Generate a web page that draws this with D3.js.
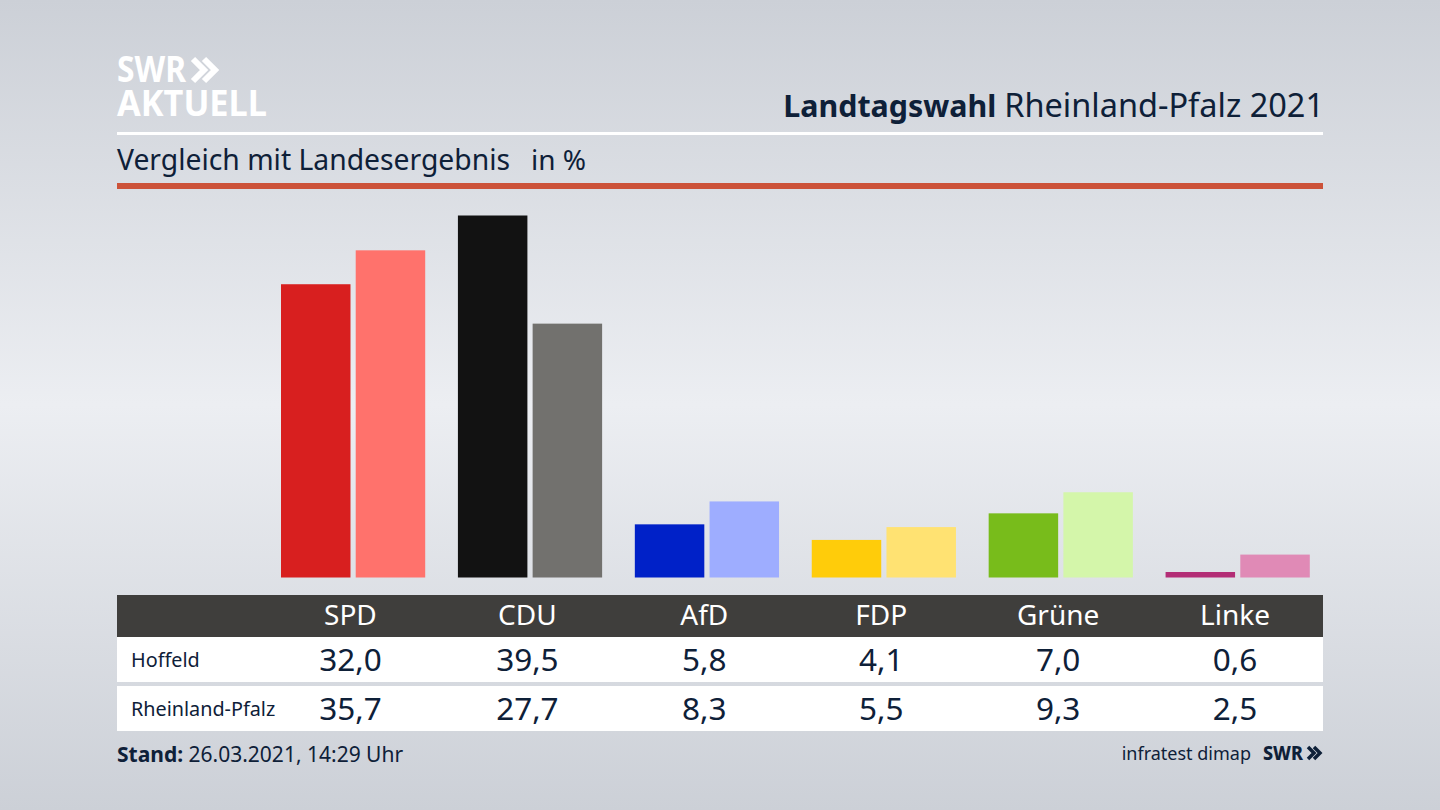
<!DOCTYPE html>
<html>
<head>
<meta charset="utf-8">
<title>Landtagswahl Rheinland-Pfalz 2021</title>
<script src="https://cdn.jsdelivr.net/npm/d3@7"></script>
<style>
  html, body { margin: 0; padding: 0; background: #d5d8de; }
  svg { display: block; }
  text { font-family: "Noto Sans", sans-serif; fill: #0e2038; }
</style>
</head>
<body>
<div id="chart"></div>
<script>
var parties = ['SPD', 'CDU', 'AfD', 'FDP', 'Grüne', 'Linke'];
var rowNames = ['Hoffeld', 'Rheinland-Pfalz'];
var hoffeld = [32.0, 39.5, 5.8, 4.1, 7.0, 0.6];
var landeswert = [35.7, 27.7, 8.3, 5.5, 9.3, 2.5];
var hoffeldColors = ['#d81f1f', '#121212', '#0021c8', '#ffcc0a', '#78bc1b', '#b32d76'];
var landesColors = ['#ff726c', '#72716e', '#9eadff', '#ffe272', '#d4f6aa', '#e08ab6'];

var width = 1440, height = 810;
var fmt = function(v) { return v.toFixed(1).replace('.', ','); };

var svg = d3.select('#chart').append('svg')
  .attr('width', width)
  .attr('height', height);

// Background
var defs = svg.append('defs');
var bg = defs.append('linearGradient')
  .attr('id', 'bg').attr('x1', 0).attr('y1', 0).attr('x2', 0).attr('y2', 1);
bg.append('stop').attr('offset', '0%').attr('stop-color', '#ccd0d7');
bg.append('stop').attr('offset', '50%').attr('stop-color', '#eceef2');
bg.append('stop').attr('offset', '100%').attr('stop-color', '#ccd0d7');
svg.append('rect').attr('width', width).attr('height', height).attr('fill', 'url(#bg)');

// Scales
var x = d3.scaleBand().domain(parties).range([262, 1323.5]);
var series = d3.scaleBand().domain([0, 1]).range([0, 144.2]).paddingInner(0.07);
var y = d3.scaleLinear().domain([0, 39.5]).range([577.5, 215.5]);

// Logo
function chevrons(g, px, py, h, sw, color) {
  [0, h * 0.5].forEach(function(dx) {
    g.append('path')
      .attr('d', d3.line()([[px + dx, py], [px + dx + h * 0.5, py + h / 2], [px + dx, py + h]]))
      .attr('fill', 'none')
      .attr('stroke', color)
      .attr('stroke-width', sw);
  });
}
var logo = svg.append('g');
logo.append('text').attr('x', 117).attr('y', 82).text('SWR')
  .attr('textLength', 69).attr('lengthAdjust', 'spacingAndGlyphs')
  .style('font-size', '35px').style('font-weight', 700).style('fill', '#fff');
chevrons(logo, 193, 59, 22, 6, '#fff');
logo.append('text').attr('x', 117).attr('y', 116).text('AKTUELL')
  .attr('textLength', 150).attr('lengthAdjust', 'spacingAndGlyphs')
  .style('font-size', '35px').style('font-weight', 700).style('fill', '#fff');

// Header, the bold and the regular part have different widths in the reference
var title = svg.append('text').attr('x', 1324).attr('y', 117)
  .attr('text-anchor', 'end');
title.append('tspan').text('Landtagswahl ').style('font-weight', 700).style('font-size', '30.4px');
title.append('tspan').text('Rheinland-Pfalz 2021').style('font-size', '32.5px');

svg.append('rect').attr('x', 117).attr('y', 132).attr('width', 1206).attr('height', 3).attr('fill', '#fff');
svg.append('text').attr('x', 117).attr('y', 170).text('Vergleich mit Landesergebnis')
  .style('font-size', '28.3px');
svg.append('text').attr('x', 531).attr('y', 170).text('in %')
  .style('font-size', '28px');
svg.append('rect').attr('x', 117).attr('y', 183).attr('width', 1206).attr('height', 6).attr('fill', '#cc5239');

// Bars
var groups = svg.selectAll('.party').data(parties).enter().append('g')
  .attr('class', 'party')
  .attr('transform', function(d) { return 'translate(' + (x(d) + 19) + ',0)'; });

groups.append('rect')
  .attr('x', series(0))
  .attr('y', function(d, i) { return y(hoffeld[i]); })
  .attr('width', series.bandwidth())
  .attr('height', function(d, i) { return y(0) - y(hoffeld[i]); })
  .attr('fill', function(d, i) { return hoffeldColors[i]; });

groups.append('rect')
  .attr('x', series(1))
  .attr('y', function(d, i) { return y(landeswert[i]); })
  .attr('width', series.bandwidth())
  .attr('height', function(d, i) { return y(0) - y(landeswert[i]); })
  .attr('fill', function(d, i) { return landesColors[i]; });

// Table
svg.append('rect').attr('x', 117).attr('y', 595).attr('width', 1206).attr('height', 42).attr('fill', '#3f3e3c');
svg.append('rect').attr('x', 117).attr('y', 637).attr('width', 1206).attr('height', 45).attr('fill', '#fff');
svg.append('rect').attr('x', 117).attr('y', 686).attr('width', 1206).attr('height', 45).attr('fill', '#fff');

svg.selectAll('.head').data(parties).enter().append('text')
  .attr('class', 'head')
  .attr('x', function(d) { return x(d) + x.bandwidth() / 2; })
  .attr('y', 625)
  .attr('text-anchor', 'middle')
  .text(function(d) { return d; })
  .style('font-size', '28px')
  .style('fill', '#fff');

[hoffeld, landeswert].forEach(function(values, r) {
  var rowY = r == 0 ? 671 : 720;
  svg.append('text').attr('x', 131).attr('y', rowY - 4).text(rowNames[r])
    .style('font-size', '19.8px');
  svg.selectAll('.val' + r).data(values).enter().append('text')
    .attr('class', 'val' + r)
    .attr('x', function(d, i) { return x(parties[i]) + x.bandwidth() / 2; })
    .attr('y', rowY)
    .attr('text-anchor', 'middle')
    .text(fmt)
    .style('font-size', '31.5px');
});

// Footer
var stand = svg.append('text').attr('x', 117).attr('y', 762).style('font-size', '21px');
stand.append('tspan').text('Stand: ').style('font-weight', 700);
stand.append('tspan').text('26.03.2021, 14:29 Uhr');

svg.append('text').attr('x', 1251).attr('y', 760).attr('text-anchor', 'end')
  .text('infratest dimap').style('font-size', '18px');
svg.append('text').attr('x', 1263).attr('y', 760).text('SWR')
  .attr('textLength', 40).attr('lengthAdjust', 'spacingAndGlyphs')
  .style('font-size', '20px').style('font-weight', 800);
chevrons(svg.append('g'), 1308, 747, 12, 3.5, '#0e2038');
</script>
</body>
</html>
